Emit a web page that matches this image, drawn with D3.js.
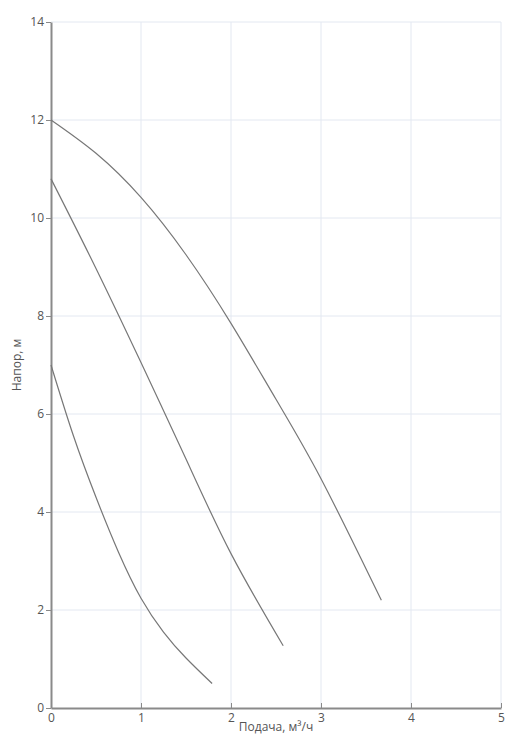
<!DOCTYPE html>
<html>
<head>
<meta charset="utf-8">
<script src="https://cdn.jsdelivr.net/npm/d3@7"></script>
<style>
  body { margin: 0; background: #fff; }
  svg text { font-family: "Open Sans", sans-serif; }
</style>
</head>
<body>
<div id="chart"></div>
<script>
// pump curves: flow (m3/h) -> head (m)
const curveHigh = [
  {x: 0, y: 12}, {x: 0.5, y: 11.32}, {x: 1, y: 10.42}, {x: 1.5, y: 9.25},
  {x: 2, y: 7.85}, {x: 2.5, y: 6.3}, {x: 3, y: 4.68}, {x: 3.67, y: 2.2}
];
const curveMid = [
  {x: 0, y: 10.8}, {x: 0.5, y: 8.97}, {x: 1, y: 7.05}, {x: 1.5, y: 5.08},
  {x: 2, y: 3.15}, {x: 2.58, y: 1.27}
];
const curveLow = [
  {x: 0, y: 7}, {x: 0.25, y: 5.55}, {x: 0.5, y: 4.3}, {x: 0.75, y: 3.18},
  {x: 1, y: 2.24}, {x: 1.25, y: 1.55}, {x: 1.5, y: 1.02}, {x: 1.79, y: 0.5}
];
const lines = [curveHigh, curveMid, curveLow];
const xTicks = [0, 1, 2, 3, 4, 5];
const yTicks = [0, 2, 4, 6, 8, 10, 12, 14];

const width = 514, height = 745;
const margin = {top: 22, right: 13, bottom: 37, left: 51};

const svg = d3.select("#chart").append("svg")
  .attr("width", width)
  .attr("height", height);

const g = svg.append("g")
  .attr("transform", "translate(" + margin.left + "," + margin.top + ")");

const w = width - margin.left - margin.right;
const h = height - margin.top - margin.bottom;

const xScale = d3.scaleLinear().domain([0, 5]).range([0, w]);
const yScale = d3.scaleLinear().domain([0, 14]).range([h, 0]);

// grid
g.append("g").selectAll("line")
  .data(xTicks.filter(d => d > 0))
  .enter().append("line")
  .attr("x1", d => xScale(d)).attr("x2", d => xScale(d))
  .attr("y1", 0).attr("y2", h)
  .attr("stroke", "#e3e8f1").attr("stroke-width", 1);

g.append("g").selectAll("line")
  .data(yTicks.filter(d => d > 0))
  .enter().append("line")
  .attr("x1", 0).attr("x2", w)
  .attr("y1", d => yScale(d)).attr("y2", d => yScale(d))
  .attr("stroke", "#e3e8f1").attr("stroke-width", 1);

// axes
let xAxis = g.append("g")
  .attr("transform", "translate(0," + h + ")")
  .call(d3.axisBottom(xScale).tickValues(xTicks).tickFormat(d3.format("d"))
    .tickSize(5).tickPadding(0).tickSizeOuter(0));

let yAxis = g.append("g")
  .call(d3.axisLeft(yScale).tickValues(yTicks).tickFormat(d3.format("d"))
    .tickSize(5).tickPadding(2).tickSizeOuter(0));

[xAxis, yAxis].forEach(a => {
  a.select(".domain").attr("stroke", "#8a8a8a").attr("stroke-width", 2);
  a.selectAll(".tick line").attr("stroke", "#8a8a8a");
  a.selectAll(".tick text").attr("fill", "#555").style("font-size", "12px");
});
xAxis.selectAll(".tick line").attr("y1", -5).attr("y2", 0);

// axis titles
svg.append("text")
  .attr("x", margin.left + w / 2)
  .attr("y", 731)
  .attr("text-anchor", "middle")
  .attr("fill", "#555")
  .style("font-size", "12px")
  .text("Подача, м³/ч");

svg.append("text")
  .attr("transform", "translate(21," + (margin.top + h / 2) + ") rotate(-90)")
  .attr("text-anchor", "middle")
  .attr("fill", "#555")
  .style("font-size", "12px")
  .text("Напор, м");

// curves
const line = d3.line()
  .x(d => xScale(d.x))
  .y(d => yScale(d.y))
  .curve(d3.curveNatural);

g.append("g").selectAll("path")
  .data(lines)
  .enter().append("path")
  .attr("d", line)
  .attr("fill", "none")
  .attr("stroke", "#777")
  .attr("stroke-width", 1.2);
</script>
</body>
</html>
